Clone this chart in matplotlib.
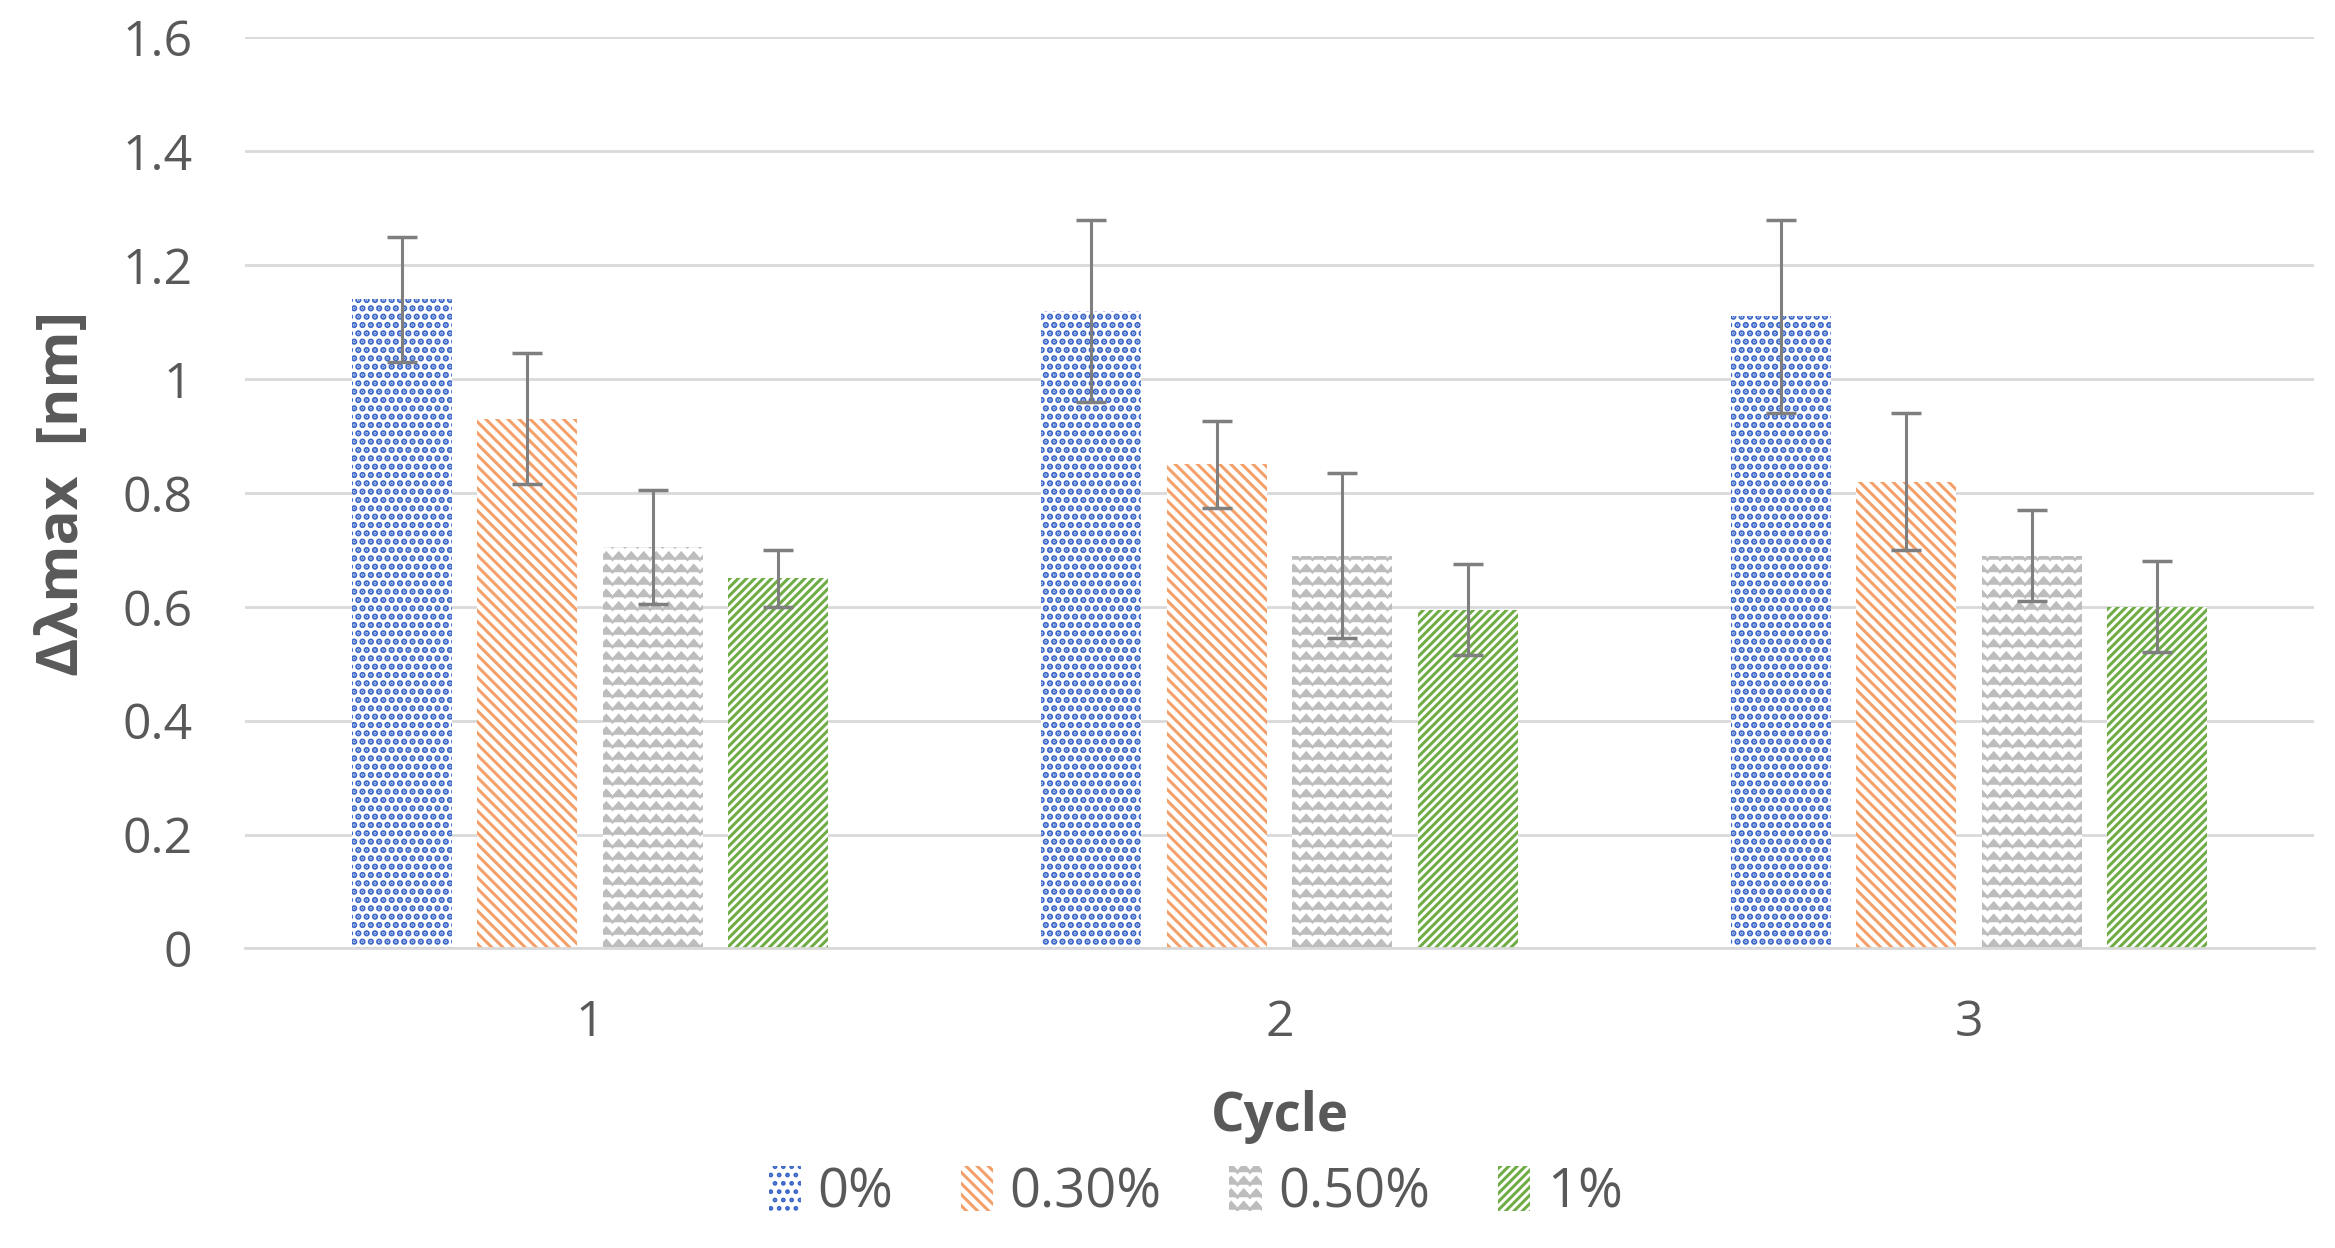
import warnings
import numpy as np
import matplotlib
matplotlib.use("Agg")
import matplotlib.pyplot as plt
from matplotlib.path import Path
from matplotlib import hatch as mhatch

warnings.filterwarnings("ignore")

cycles = ["1", "2", "3"]
series = ["0%", "0.30%", "0.50%", "1%"]
vals_0 = [1.14, 1.12, 1.11]
vals_030 = [0.93, 0.85, 0.82]
vals_050 = [0.705, 0.69, 0.69]
vals_1 = [0.65, 0.595, 0.60]
err_0 = [0.11, 0.16, 0.17]
err_030 = [0.115, 0.077, 0.12]
err_050 = [0.10, 0.145, 0.08]
err_1 = [0.05, 0.08, 0.08]

colors = ["#3A66C8", "#F4A06A", "#BDBDBD", "#70AD47"]
hatches = ["..", "\\\\\\", "z", "////"]
hatch_lw = [3.2, 2.2, 1.8, 2.2]


class ZigZagHatch(mhatch.HatchPatternBase):
    # rows of small chevrons, like the office "zig zag" fill
    def __init__(self, hatch, density):
        self.num_rows = int(round(hatch.count('z') * density * 4 / 3))
        self.num_teeth = self.num_rows
        self.num_vertices = self.num_rows * (2 * self.num_teeth + 1)

    def set_vertices_and_codes(self, vertices, codes):
        n = self.num_rows
        per = 2 * self.num_teeth + 1
        xs = np.linspace(0.0, 1.0, per)
        amp = 0.28 / n
        offs = np.where(np.arange(per) % 2 == 0, -amp, amp)
        for i in range(n):
            y0 = (i + 0.5) / n
            vertices[i * per:(i + 1) * per, 0] = xs
            vertices[i * per:(i + 1) * per, 1] = y0 + offs
            codes[i * per] = Path.MOVETO
            codes[i * per + 1:(i + 1) * per] = Path.LINETO


mhatch._hatch_types.append(ZigZagHatch)

plt.rcParams['font.family'] = ['Open Sans', 'DejaVu Sans']
plt.rcParams['hatch.linewidth'] = 2.2

fig = plt.figure(figsize=(23.35, 12.48), dpi=100)
ax = fig.add_axes([0.105, 0.240, 0.886, 0.730])

x = np.arange(len(cycles))
width = 0.145
step = 0.182
all_vals = [vals_0, vals_030, vals_050, vals_1]
all_errs = [err_0, err_030, err_050, err_1]
handles = []
for i, (v, e) in enumerate(zip(all_vals, all_errs)):
    pos = x + (i - 1.5) * step
    with plt.rc_context({'hatch.linewidth': hatch_lw[i]}):
        b = ax.bar(pos, v, width, facecolor="white", edgecolor=colors[i],
                   linewidth=0, hatch=hatches[i], label=series[i], zorder=2)
    for p in b:
        if hasattr(p, "set_hatch_linewidth"):
            p.set_hatch_linewidth(hatch_lw[i])
    ax.errorbar(pos, v, yerr=e, fmt="none", ecolor="#7F7F7F", elinewidth=2.2,
                capsize=11, capthick=2.5, zorder=3)
    handles.append(b)

ax.set_xlim(-0.5, 2.5)
ax.set_ylim(0, 1.6)
ax.set_yticks(np.arange(0, 1.61, 0.2))
ax.set_yticklabels(["0", "0.2", "0.4", "0.6", "0.8", "1", "1.2", "1.4", "1.6"])
ax.set_xticks(x)
ax.set_xticklabels(cycles)
ax.tick_params(axis="both", length=0, labelsize=36, colors="#595959")
ax.tick_params(axis="y", pad=38)
ax.tick_params(axis="x", pad=36)
ax.yaxis.grid(True, color="#D9D9D9", linewidth=2, zorder=0)
ax.set_axisbelow(True)
for s in ["top", "right", "left"]:
    ax.spines[s].set_visible(False)
ax.spines["bottom"].set_color("#D9D9D9")
ax.spines["bottom"].set_linewidth(2)

ax.set_ylabel("Δλmax  [nm]", fontsize=42, fontweight="bold", color="#595959",
              labelpad=22)
ax.set_xlabel("Cycle", fontsize=38, fontweight="bold", color="#595959",
              labelpad=30)

fig.legend(handles=handles, loc="center", bbox_to_anchor=(0.512, 0.044),
           ncol=4, frameon=False, fontsize=39, handlelength=0.6,
           handleheight=0.9, handletextpad=0.3, columnspacing=1.25,
           labelcolor="#595959")

fig.savefig("out.png", dpi=100, facecolor="white")
